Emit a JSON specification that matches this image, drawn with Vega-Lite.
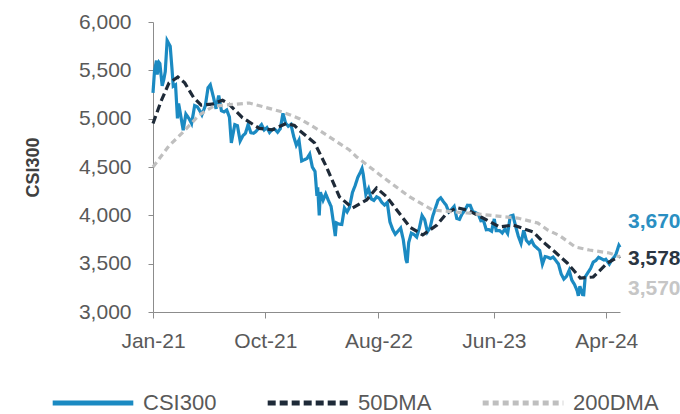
{
  "$schema": "https://vega.github.io/schema/vega-lite/v6.json",
  "autosize": {"type": "none"},
  "width": 467,
  "height": 290,
  "padding": {"left": 153, "top": 22, "right": 60, "bottom": 102},
  "background": "white",
  "config": {
    "font": "Liberation Sans",
    "view": {"stroke": null}
  },
  "datasets": {
    "lines": [
      {"d":"2021-01-04","s":"CSI300","v":5267},{"d":"2021-01-08","s":"CSI300","v":5496},{"d":"2021-01-13","s":"CSI300","v":5600},{"d":"2021-01-15","s":"CSI300","v":5458},{"d":"2021-01-20","s":"CSI300","v":5580},{"d":"2021-01-22","s":"CSI300","v":5570},{"d":"2021-01-28","s":"CSI300","v":5340},{"d":"2021-02-01","s":"CSI300","v":5400},{"d":"2021-02-05","s":"CSI300","v":5484},{"d":"2021-02-10","s":"CSI300","v":5808},{"d":"2021-02-18","s":"CSI300","v":5750},{"d":"2021-02-23","s":"CSI300","v":5500},{"d":"2021-02-26","s":"CSI300","v":5336},{"d":"2021-03-04","s":"CSI300","v":5350},{"d":"2021-03-09","s":"CSI300","v":5003},{"d":"2021-03-12","s":"CSI300","v":5157},{"d":"2021-03-19","s":"CSI300","v":4998},{"d":"2021-03-24","s":"CSI300","v":4880},{"d":"2021-03-31","s":"CSI300","v":5048},{"d":"2021-04-09","s":"CSI300","v":4996},{"d":"2021-04-15","s":"CSI300","v":4950},{"d":"2021-04-23","s":"CSI300","v":5135},{"d":"2021-04-30","s":"CSI300","v":5123},{"d":"2021-05-07","s":"CSI300","v":5079},{"d":"2021-05-12","s":"CSI300","v":5040},{"d":"2021-05-21","s":"CSI300","v":5135},{"d":"2021-05-28","s":"CSI300","v":5321},{"d":"2021-06-03","s":"CSI300","v":5350},{"d":"2021-06-11","s":"CSI300","v":5225},{"d":"2021-06-18","s":"CSI300","v":5102},{"d":"2021-06-25","s":"CSI300","v":5240},{"d":"2021-07-02","s":"CSI300","v":5082},{"d":"2021-07-09","s":"CSI300","v":5070},{"d":"2021-07-16","s":"CSI300","v":5090},{"d":"2021-07-23","s":"CSI300","v":5016},{"d":"2021-07-28","s":"CSI300","v":4750},{"d":"2021-08-06","s":"CSI300","v":4938},{"d":"2021-08-13","s":"CSI300","v":4927},{"d":"2021-08-20","s":"CSI300","v":4769},{"d":"2021-08-27","s":"CSI300","v":4822},{"d":"2021-09-03","s":"CSI300","v":4850},{"d":"2021-09-10","s":"CSI300","v":4940},{"d":"2021-09-17","s":"CSI300","v":4855},{"d":"2021-09-24","s":"CSI300","v":4849},{"d":"2021-09-30","s":"CSI300","v":4866},{"d":"2021-10-15","s":"CSI300","v":4938},{"d":"2021-10-22","s":"CSI300","v":4883},{"d":"2021-10-29","s":"CSI300","v":4908},{"d":"2021-11-05","s":"CSI300","v":4857},{"d":"2021-11-12","s":"CSI300","v":4888},{"d":"2021-11-19","s":"CSI300","v":4890},{"d":"2021-11-26","s":"CSI300","v":4860},{"d":"2021-12-03","s":"CSI300","v":4895},{"d":"2021-12-10","s":"CSI300","v":5055},{"d":"2021-12-17","s":"CSI300","v":4954},{"d":"2021-12-24","s":"CSI300","v":4921},{"d":"2021-12-31","s":"CSI300","v":4940},
      {"d":"2022-01-07","s":"CSI300","v":4818},{"d":"2022-01-14","s":"CSI300","v":4726},{"d":"2022-01-21","s":"CSI300","v":4779},{"d":"2022-01-28","s":"CSI300","v":4563},{"d":"2022-02-11","s":"CSI300","v":4588},{"d":"2022-02-18","s":"CSI300","v":4634},{"d":"2022-02-25","s":"CSI300","v":4498},{"d":"2022-03-04","s":"CSI300","v":4454},{"d":"2022-03-09","s":"CSI300","v":4200},{"d":"2022-03-11","s":"CSI300","v":4290},{"d":"2022-03-15","s":"CSI300","v":4000},{"d":"2022-03-18","s":"CSI300","v":4240},{"d":"2022-03-25","s":"CSI300","v":4157},{"d":"2022-04-01","s":"CSI300","v":4222},{"d":"2022-04-08","s":"CSI300","v":4154},{"d":"2022-04-15","s":"CSI300","v":4092},{"d":"2022-04-22","s":"CSI300","v":3902},{"d":"2022-04-26","s":"CSI300","v":3785},{"d":"2022-04-29","s":"CSI300","v":3921},{"d":"2022-05-06","s":"CSI300","v":3909},{"d":"2022-05-13","s":"CSI300","v":3905},{"d":"2022-05-20","s":"CSI300","v":4077},{"d":"2022-05-27","s":"CSI300","v":4036},{"d":"2022-06-02","s":"CSI300","v":4081},{"d":"2022-06-10","s":"CSI300","v":4238},{"d":"2022-06-17","s":"CSI300","v":4308},{"d":"2022-06-24","s":"CSI300","v":4394},{"d":"2022-07-01","s":"CSI300","v":4449},{"d":"2022-07-05","s":"CSI300","v":4485},{"d":"2022-07-08","s":"CSI300","v":4428},{"d":"2022-07-15","s":"CSI300","v":4216},{"d":"2022-07-22","s":"CSI300","v":4275},{"d":"2022-07-29","s":"CSI300","v":4170},{"d":"2022-08-05","s":"CSI300","v":4155},{"d":"2022-08-12","s":"CSI300","v":4191},{"d":"2022-08-19","s":"CSI300","v":4177},{"d":"2022-08-26","s":"CSI300","v":4132},{"d":"2022-09-02","s":"CSI300","v":4107},{"d":"2022-09-09","s":"CSI300","v":4132},{"d":"2022-09-16","s":"CSI300","v":3932},{"d":"2022-09-23","s":"CSI300","v":3856},{"d":"2022-09-30","s":"CSI300","v":3804},{"d":"2022-10-14","s":"CSI300","v":3869},{"d":"2022-10-21","s":"CSI300","v":3747},{"d":"2022-10-28","s":"CSI300","v":3541},{"d":"2022-10-31","s":"CSI300","v":3508},{"d":"2022-11-04","s":"CSI300","v":3717},{"d":"2022-11-11","s":"CSI300","v":3816},{"d":"2022-11-18","s":"CSI300","v":3802},{"d":"2022-11-25","s":"CSI300","v":3775},{"d":"2022-12-02","s":"CSI300","v":3870},{"d":"2022-12-09","s":"CSI300","v":3998},{"d":"2022-12-16","s":"CSI300","v":3954},{"d":"2022-12-23","s":"CSI300","v":3828},{"d":"2022-12-30","s":"CSI300","v":3872},
      {"d":"2023-01-06","s":"CSI300","v":3991},{"d":"2023-01-13","s":"CSI300","v":4075},{"d":"2023-01-20","s":"CSI300","v":4157},{"d":"2023-01-27","s":"CSI300","v":4181},{"d":"2023-02-03","s":"CSI300","v":4141},{"d":"2023-02-10","s":"CSI300","v":4106},{"d":"2023-02-17","s":"CSI300","v":4035},{"d":"2023-02-24","s":"CSI300","v":4061},{"d":"2023-03-03","s":"CSI300","v":4092},{"d":"2023-03-10","s":"CSI300","v":3967},{"d":"2023-03-17","s":"CSI300","v":3958},{"d":"2023-03-24","s":"CSI300","v":4017},{"d":"2023-03-31","s":"CSI300","v":4051},{"d":"2023-04-07","s":"CSI300","v":4105},{"d":"2023-04-14","s":"CSI300","v":4103},{"d":"2023-04-21","s":"CSI300","v":4036},{"d":"2023-04-28","s":"CSI300","v":4029},{"d":"2023-05-05","s":"CSI300","v":4014},{"d":"2023-05-12","s":"CSI300","v":3944},{"d":"2023-05-19","s":"CSI300","v":3945},{"d":"2023-05-26","s":"CSI300","v":3851},{"d":"2023-06-02","s":"CSI300","v":3852},{"d":"2023-06-09","s":"CSI300","v":3836},{"d":"2023-06-16","s":"CSI300","v":3963},{"d":"2023-06-21","s":"CSI300","v":3841},{"d":"2023-06-30","s":"CSI300","v":3842},{"d":"2023-07-07","s":"CSI300","v":3817},{"d":"2023-07-14","s":"CSI300","v":3859},{"d":"2023-07-21","s":"CSI300","v":3813},{"d":"2023-07-28","s":"CSI300","v":3992},{"d":"2023-08-04","s":"CSI300","v":4001},{"d":"2023-08-11","s":"CSI300","v":3884},{"d":"2023-08-18","s":"CSI300","v":3784},{"d":"2023-08-25","s":"CSI300","v":3710},{"d":"2023-09-01","s":"CSI300","v":3844},{"d":"2023-09-08","s":"CSI300","v":3741},{"d":"2023-09-15","s":"CSI300","v":3708},{"d":"2023-09-22","s":"CSI300","v":3739},{"d":"2023-09-28","s":"CSI300","v":3690},{"d":"2023-10-13","s":"CSI300","v":3636},{"d":"2023-10-20","s":"CSI300","v":3495},{"d":"2023-10-27","s":"CSI300","v":3573},{"d":"2023-11-03","s":"CSI300","v":3567},{"d":"2023-11-10","s":"CSI300","v":3553},{"d":"2023-11-17","s":"CSI300","v":3569},{"d":"2023-11-24","s":"CSI300","v":3533},{"d":"2023-12-01","s":"CSI300","v":3496},{"d":"2023-12-08","s":"CSI300","v":3394},{"d":"2023-12-15","s":"CSI300","v":3341},{"d":"2023-12-22","s":"CSI300","v":3368},{"d":"2023-12-29","s":"CSI300","v":3431},
      {"d":"2024-01-05","s":"CSI300","v":3329},{"d":"2024-01-12","s":"CSI300","v":3284},{"d":"2024-01-19","s":"CSI300","v":3219},{"d":"2024-01-22","s":"CSI300","v":3167},{"d":"2024-01-26","s":"CSI300","v":3266},{"d":"2024-02-02","s":"CSI300","v":3180},{"d":"2024-02-05","s":"CSI300","v":3179},{"d":"2024-02-09","s":"CSI300","v":3364},{"d":"2024-02-23","s":"CSI300","v":3450},{"d":"2024-03-01","s":"CSI300","v":3516},{"d":"2024-03-08","s":"CSI300","v":3533},{"d":"2024-03-15","s":"CSI300","v":3566},{"d":"2024-03-22","s":"CSI300","v":3552},{"d":"2024-03-29","s":"CSI300","v":3537},{"d":"2024-04-03","s":"CSI300","v":3545},{"d":"2024-04-12","s":"CSI300","v":3495},{"d":"2024-04-19","s":"CSI300","v":3542},{"d":"2024-04-26","s":"CSI300","v":3574},{"d":"2024-04-30","s":"CSI300","v":3604},{"d":"2024-05-07","s":"CSI300","v":3690},{"d":"2024-05-10","s":"CSI300","v":3670},
      {"d":"2021-01-04","s":"50DMA","v":4950},{"d":"2021-01-25","s":"50DMA","v":5180},{"d":"2021-02-15","s":"50DMA","v":5370},{"d":"2021-03-10","s":"50DMA","v":5430},{"d":"2021-03-28","s":"50DMA","v":5370},{"d":"2021-04-20","s":"50DMA","v":5220},{"d":"2021-05-10","s":"50DMA","v":5140},{"d":"2021-06-08","s":"50DMA","v":5150},{"d":"2021-07-05","s":"50DMA","v":5190},{"d":"2021-07-22","s":"50DMA","v":5150},{"d":"2021-08-26","s":"50DMA","v":5010},{"d":"2021-10-09","s":"50DMA","v":4900},{"d":"2021-11-12","s":"50DMA","v":4885},{"d":"2021-12-19","s":"50DMA","v":4950},{"d":"2022-01-09","s":"50DMA","v":4930},{"d":"2022-01-22","s":"50DMA","v":4880},{"d":"2022-03-03","s":"50DMA","v":4748},{"d":"2022-04-03","s":"50DMA","v":4500},{"d":"2022-05-07","s":"50DMA","v":4190},{"d":"2022-06-10","s":"50DMA","v":4076},{"d":"2022-07-17","s":"50DMA","v":4159},{"d":"2022-08-12","s":"50DMA","v":4283},{"d":"2022-09-08","s":"50DMA","v":4190},{"d":"2022-10-04","s":"50DMA","v":4055},{"d":"2022-11-07","s":"50DMA","v":3879},{"d":"2022-12-11","s":"50DMA","v":3797},{"d":"2023-01-17","s":"50DMA","v":3900},{"d":"2023-02-12","s":"50DMA","v":4024},{"d":"2023-03-10","s":"50DMA","v":4080},{"d":"2023-04-10","s":"50DMA","v":4050},{"d":"2023-05-28","s":"50DMA","v":3950},{"d":"2023-06-30","s":"50DMA","v":3880},{"d":"2023-08-04","s":"50DMA","v":3900},{"d":"2023-09-26","s":"50DMA","v":3828},{"d":"2023-10-22","s":"50DMA","v":3724},{"d":"2023-11-22","s":"50DMA","v":3620},{"d":"2023-12-24","s":"50DMA","v":3507},{"d":"2024-01-27","s":"50DMA","v":3352},{"d":"2024-03-01","s":"50DMA","v":3362},{"d":"2024-04-07","s":"50DMA","v":3507},{"d":"2024-05-10","s":"50DMA","v":3578},
      {"d":"2021-01-04","s":"200DMA","v":4500},{"d":"2021-02-15","s":"200DMA","v":4720},{"d":"2021-03-21","s":"200DMA","v":4850},{"d":"2021-05-05","s":"200DMA","v":5038},{"d":"2021-06-12","s":"200DMA","v":5130},{"d":"2021-09-13","s":"200DMA","v":5162},{"d":"2021-12-09","s":"200DMA","v":5069},{"d":"2022-01-22","s":"200DMA","v":5000},{"d":"2022-03-15","s":"200DMA","v":4880},{"d":"2022-06-02","s":"200DMA","v":4676},{"d":"2022-06-21","s":"200DMA","v":4604},{"d":"2022-08-28","s":"200DMA","v":4397},{"d":"2022-11-07","s":"200DMA","v":4190},{"d":"2023-01-06","s":"200DMA","v":4055},{"d":"2023-04-06","s":"200DMA","v":4024},{"d":"2023-07-01","s":"200DMA","v":3990},{"d":"2023-08-16","s":"200DMA","v":3972},{"d":"2023-10-08","s":"200DMA","v":3920},{"d":"2023-11-03","s":"200DMA","v":3848},{"d":"2023-12-04","s":"200DMA","v":3790},{"d":"2024-01-14","s":"200DMA","v":3672},{"d":"2024-02-20","s":"200DMA","v":3641},{"d":"2024-04-12","s":"200DMA","v":3610},{"d":"2024-05-10","s":"200DMA","v":3570}
    ]
  },
  "data": {"name": "lines"},
  "layer": [
    {
      "mark": {"type": "line", "strokeWidth": 3.2, "strokeCap": "butt"},
      "encoding": {
        "x": {
          "field": "d", "type": "temporal",
          "scale": {"domain": [{"year": 2021, "month": 1, "date": 4}, {"year": 2024, "month": 5, "date": 10}]},
          "axis": {
            "title": null,
            "format": "%b-%y",
            "values": [
              {"year": 2021, "month": 1, "date": 4},
              {"year": 2021, "month": 10, "date": 25},
              {"year": 2022, "month": 8, "date": 17},
              {"year": 2023, "month": 6, "date": 15},
              {"year": 2024, "month": 4, "date": 4}
            ],
            "labelFlush": false,
            "domainColor": "#8c8c8c", "tickColor": "#8c8c8c", "tickSize": 6,
            "labelFontSize": 21, "labelColor": "#595959", "labelPadding": 12,
            "grid": false
          }
        },
        "y": {
          "field": "v", "type": "quantitative",
          "scale": {"domain": [3000, 6000], "nice": false, "zero": false},
          "axis": {
            "title": "CSI300", "titleFontSize": 18, "titleFontWeight": "bold", "titleColor": "#404040", "titlePadding": 36,
            "values": [3000, 3500, 4000, 4500, 5000, 5500, 6000],
            "format": ",.0f",
            "labelFlush": false,
            "domainColor": "#8c8c8c", "tickColor": "#8c8c8c", "tickSize": 5,
            "labelFontSize": 21, "labelColor": "#595959", "labelPadding": 17,
            "grid": false
          }
        },
        "color": {
          "field": "s", "type": "nominal",
          "scale": {"domain": ["CSI300", "50DMA", "200DMA"], "range": ["#1b8ac2", "#1e2a38", "#bfbfbf"]},
          "legend": {
            "title": null, "orient": "none", "direction": "horizontal",
            "legendX": -103, "legendY": 338,
            "symbolType": "stroke", "symbolSize": 6500, "symbolStrokeWidth": 5,
            "labelFontSize": 22, "labelColor": "#595959", "columnPadding": 40, "labelOffset": 7
          }
        },
        "strokeDash": {
          "field": "s", "type": "nominal",
          "scale": {"domain": ["CSI300", "50DMA", "200DMA"], "range": [[1, 0], [8, 4], [6, 4]]},
          "legend": {
            "title": null, "orient": "none", "direction": "horizontal",
            "legendX": -103, "legendY": 338,
            "symbolType": "stroke", "symbolSize": 6500, "symbolStrokeWidth": 5,
            "labelFontSize": 22, "labelColor": "#595959", "columnPadding": 40, "labelOffset": 7
          }
        }
      }
    },
    {
      "transform": [{"filter": "datum.s === 'CSI300' && datum.v === 3670"}],
      "mark": {"type": "text", "align": "left", "baseline": "middle", "dx": 8, "dy": -25, "fontSize": 21, "fontWeight": "bold", "color": "#2b8fc2"},
      "encoding": {
        "x": {"field": "d", "type": "temporal"},
        "y": {"field": "v", "type": "quantitative"},
        "text": {"field": "v", "type": "quantitative", "format": ",.0f"}
      }
    },
    {
      "transform": [{"filter": "datum.s === '50DMA' && datum.v === 3578"}],
      "mark": {"type": "text", "align": "left", "baseline": "middle", "dx": 8, "dy": 3, "fontSize": 21, "fontWeight": "bold", "color": "#2a3542"},
      "encoding": {
        "x": {"field": "d", "type": "temporal"},
        "y": {"field": "v", "type": "quantitative"},
        "text": {"field": "v", "type": "quantitative", "format": ",.0f"}
      }
    },
    {
      "transform": [{"filter": "datum.s === '200DMA' && datum.v === 3570"}],
      "mark": {"type": "text", "align": "left", "baseline": "middle", "dx": 8, "dy": 32, "fontSize": 21, "fontWeight": "bold", "color": "#c6c6c6"},
      "encoding": {
        "x": {"field": "d", "type": "temporal"},
        "y": {"field": "v", "type": "quantitative"},
        "text": {"field": "v", "type": "quantitative", "format": ",.0f"}
      }
    }
  ]
}
